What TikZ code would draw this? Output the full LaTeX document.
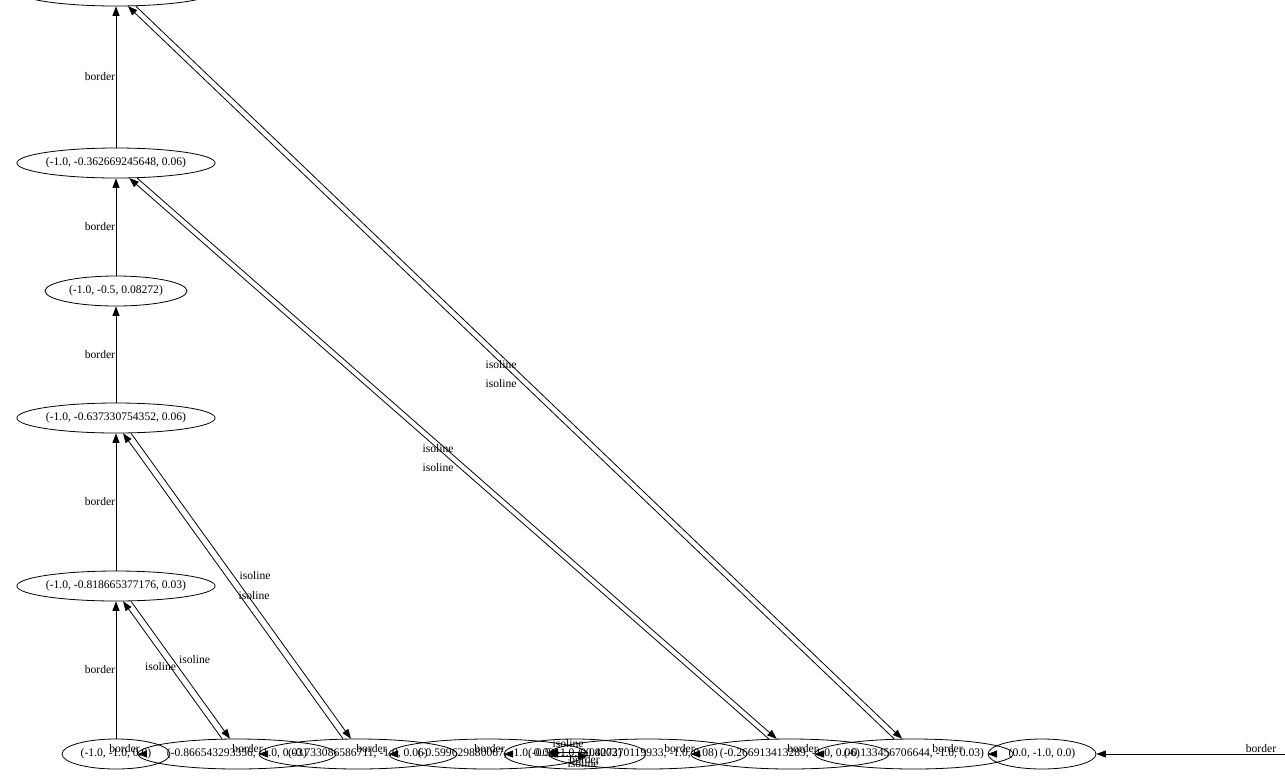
\documentclass[tikz,border=0pt]{standalone}
\usepackage{fontspec}
\setmainfont{Liberation Serif}
\usetikzlibrary{arrows.meta,shapes.geometric}
\tikzset{
  ptnode/.style={draw, ellipse, line width=0.8pt, inner xsep=0pt, inner ysep=1pt, minimum width=198pt, minimum height=30pt},
  ptshort/.style={ptnode, minimum width=108pt},
  ptmid/.style={ptnode, minimum width=142pt},
  bdline/.style={-{Triangle[length=9.5pt,width=7pt]}, line width=0.8pt},
  isoedge/.style={-{Triangle[length=9.5pt,width=7pt]}, line width=0.8pt},
  elabel/.style={inner sep=0.5pt}
}

\begin{document}
\begin{tikzpicture}[x=1pt, y=-1pt, every node/.style={font=\fontsize{11.6}{13}\selectfont}]
  \useasboundingbox (0,0) rectangle (1285,780);

  % column x = -1.0
  \node[ptnode] (v5) at (116,-9) {(-1.0, -0.181334622824, 0.03)};
  \node[ptnode] (v4) at (116,163) {(-1.0, -0.362669245648, 0.06)};
  \node[ptmid] (v3) at (116,291) {(-1.0, -0.5, 0.08272)};
  \node[ptnode] (v2) at (116,418) {(-1.0, -0.637330754352, 0.06)};
  \node[ptnode] (v1) at (116,586) {(-1.0, -0.818665377176, 0.03)};

  % row y = -1.0
  \node[ptshort] (h0) at (116,754) {(-1.0, -1.0, 0.0)};
  \node[ptnode] (h1) at (237,754) {(-0.866543293356, -1.0, 0.03)};
  \node[ptnode] (h2) at (358,754) {(-0.733086586711, -1.0, 0.06)};
  \node[ptnode] (h3) at (488,754) {(-0.599629880067, -1.0, 0.08)};
  \node[ptmid] (h4) at (575,754) {(-0.5, -1.0, 0.08272)};
  \node[ptnode] (h5) at (648,754) {(-0.400370119933, -1.0, 0.08)};
  \node[ptnode] (h6) at (790,754) {(-0.266913413289, -1.0, 0.06)};
  \node[ptnode] (h7) at (914,754) {(-0.133456706644, -1.0, 0.03)};
  \node[ptshort] (h8) at (1042,754) {(0.0, -1.0, 0.0)};
  \coordinate (hin) at (1290,754);

  % border edges
  \draw[bdline] (hin) -- node[elabel, above, pos=.15] {border} (h8);
  \draw[bdline] (h8.west) ++(7pt,0) -- (h8.west) node[elabel, above=1pt, xshift=-40pt] {border};
  \draw[bdline] (h7.west) ++(7pt,0) -- (h7.west) node[elabel, above=1pt, xshift=-12pt] {border};
  \draw[bdline] (h6.west) ++(7pt,0) -- (h6.west) node[elabel, above=1pt, xshift=-11pt] {border};
  \draw[bdline] (h5.west) ++(7pt,0) -- (h5.west) node[elabel, below=1pt, xshift=36pt] {border};
  \draw[bdline] (h4.west) ++(7pt,0) -- (h4.west) node[elabel, above=1pt, xshift=-14pt] {border};
  \draw[bdline] (h3.west) ++(7pt,0) -- (h3.west) node[elabel, above=1pt, xshift=-17pt] {border};
  \draw[bdline] (h2.west) ++(7pt,0) -- (h2.west) node[elabel, above=1pt, xshift=-11pt] {border};
  \draw[bdline] (h1.west) ++(7pt,0) -- (h1.west) node[elabel, above=1pt, xshift=-13pt] {border};
  \draw[bdline] (h0) -- node[elabel, left] {border} (v1);
  \draw[bdline] (v1) -- node[elabel, left] {border} (v2);
  \draw[bdline] (v2) -- node[elabel, left] {border} (v3);
  \draw[bdline] (v3) -- node[elabel, left] {border} (v4);
  \draw[bdline] (v4) -- node[elabel, left] {border} (v5);

  % isoline edges
  \draw[isoedge, transform canvas={xshift=-4pt}] (h1) -- node[elabel, xshift=-12pt, yshift=3pt] {isoline} (v1);
  \draw[isoedge, transform canvas={xshift=4pt}] (v1) -- node[elabel, xshift=14pt, yshift=10pt] {isoline} (h1);
  \draw[isoedge, transform canvas={xshift=-4pt}] (h2) -- node[elabel, xshift=21pt, yshift=-10pt] {isoline} (v2);
  \draw[isoedge, transform canvas={xshift=4pt}] (v2) -- node[elabel, xshift=14pt, yshift=10pt] {isoline} (h2);
  \draw[isoedge, transform canvas={xshift=-4pt}] (h6) -- node[elabel, xshift=-11pt, yshift=9.5pt] {isoline} (v4);
  \draw[isoedge, transform canvas={xshift=4pt}] (v4) -- node[elabel, xshift=-19pt, yshift=-9.5pt] {isoline} (h6);
  \draw[isoedge, transform canvas={xshift=-4pt}] (h7) -- node[elabel, xshift=-10pt, yshift=7.5pt] {isoline} (v5);
  \draw[isoedge, transform canvas={xshift=4pt}] (v5) -- node[elabel, xshift=-18pt, yshift=-11.5pt] {isoline} (h7);
  \draw[isoedge, transform canvas={yshift=2pt}] (h3.east) -- node[elabel, above=3pt] {isoline} (h5.west);
  \draw[isoedge, transform canvas={yshift=-2pt}] (h5.west) -- node[elabel, below=3pt, xshift=15pt] {isoline} (h3.east);
\end{tikzpicture}
\end{document}
